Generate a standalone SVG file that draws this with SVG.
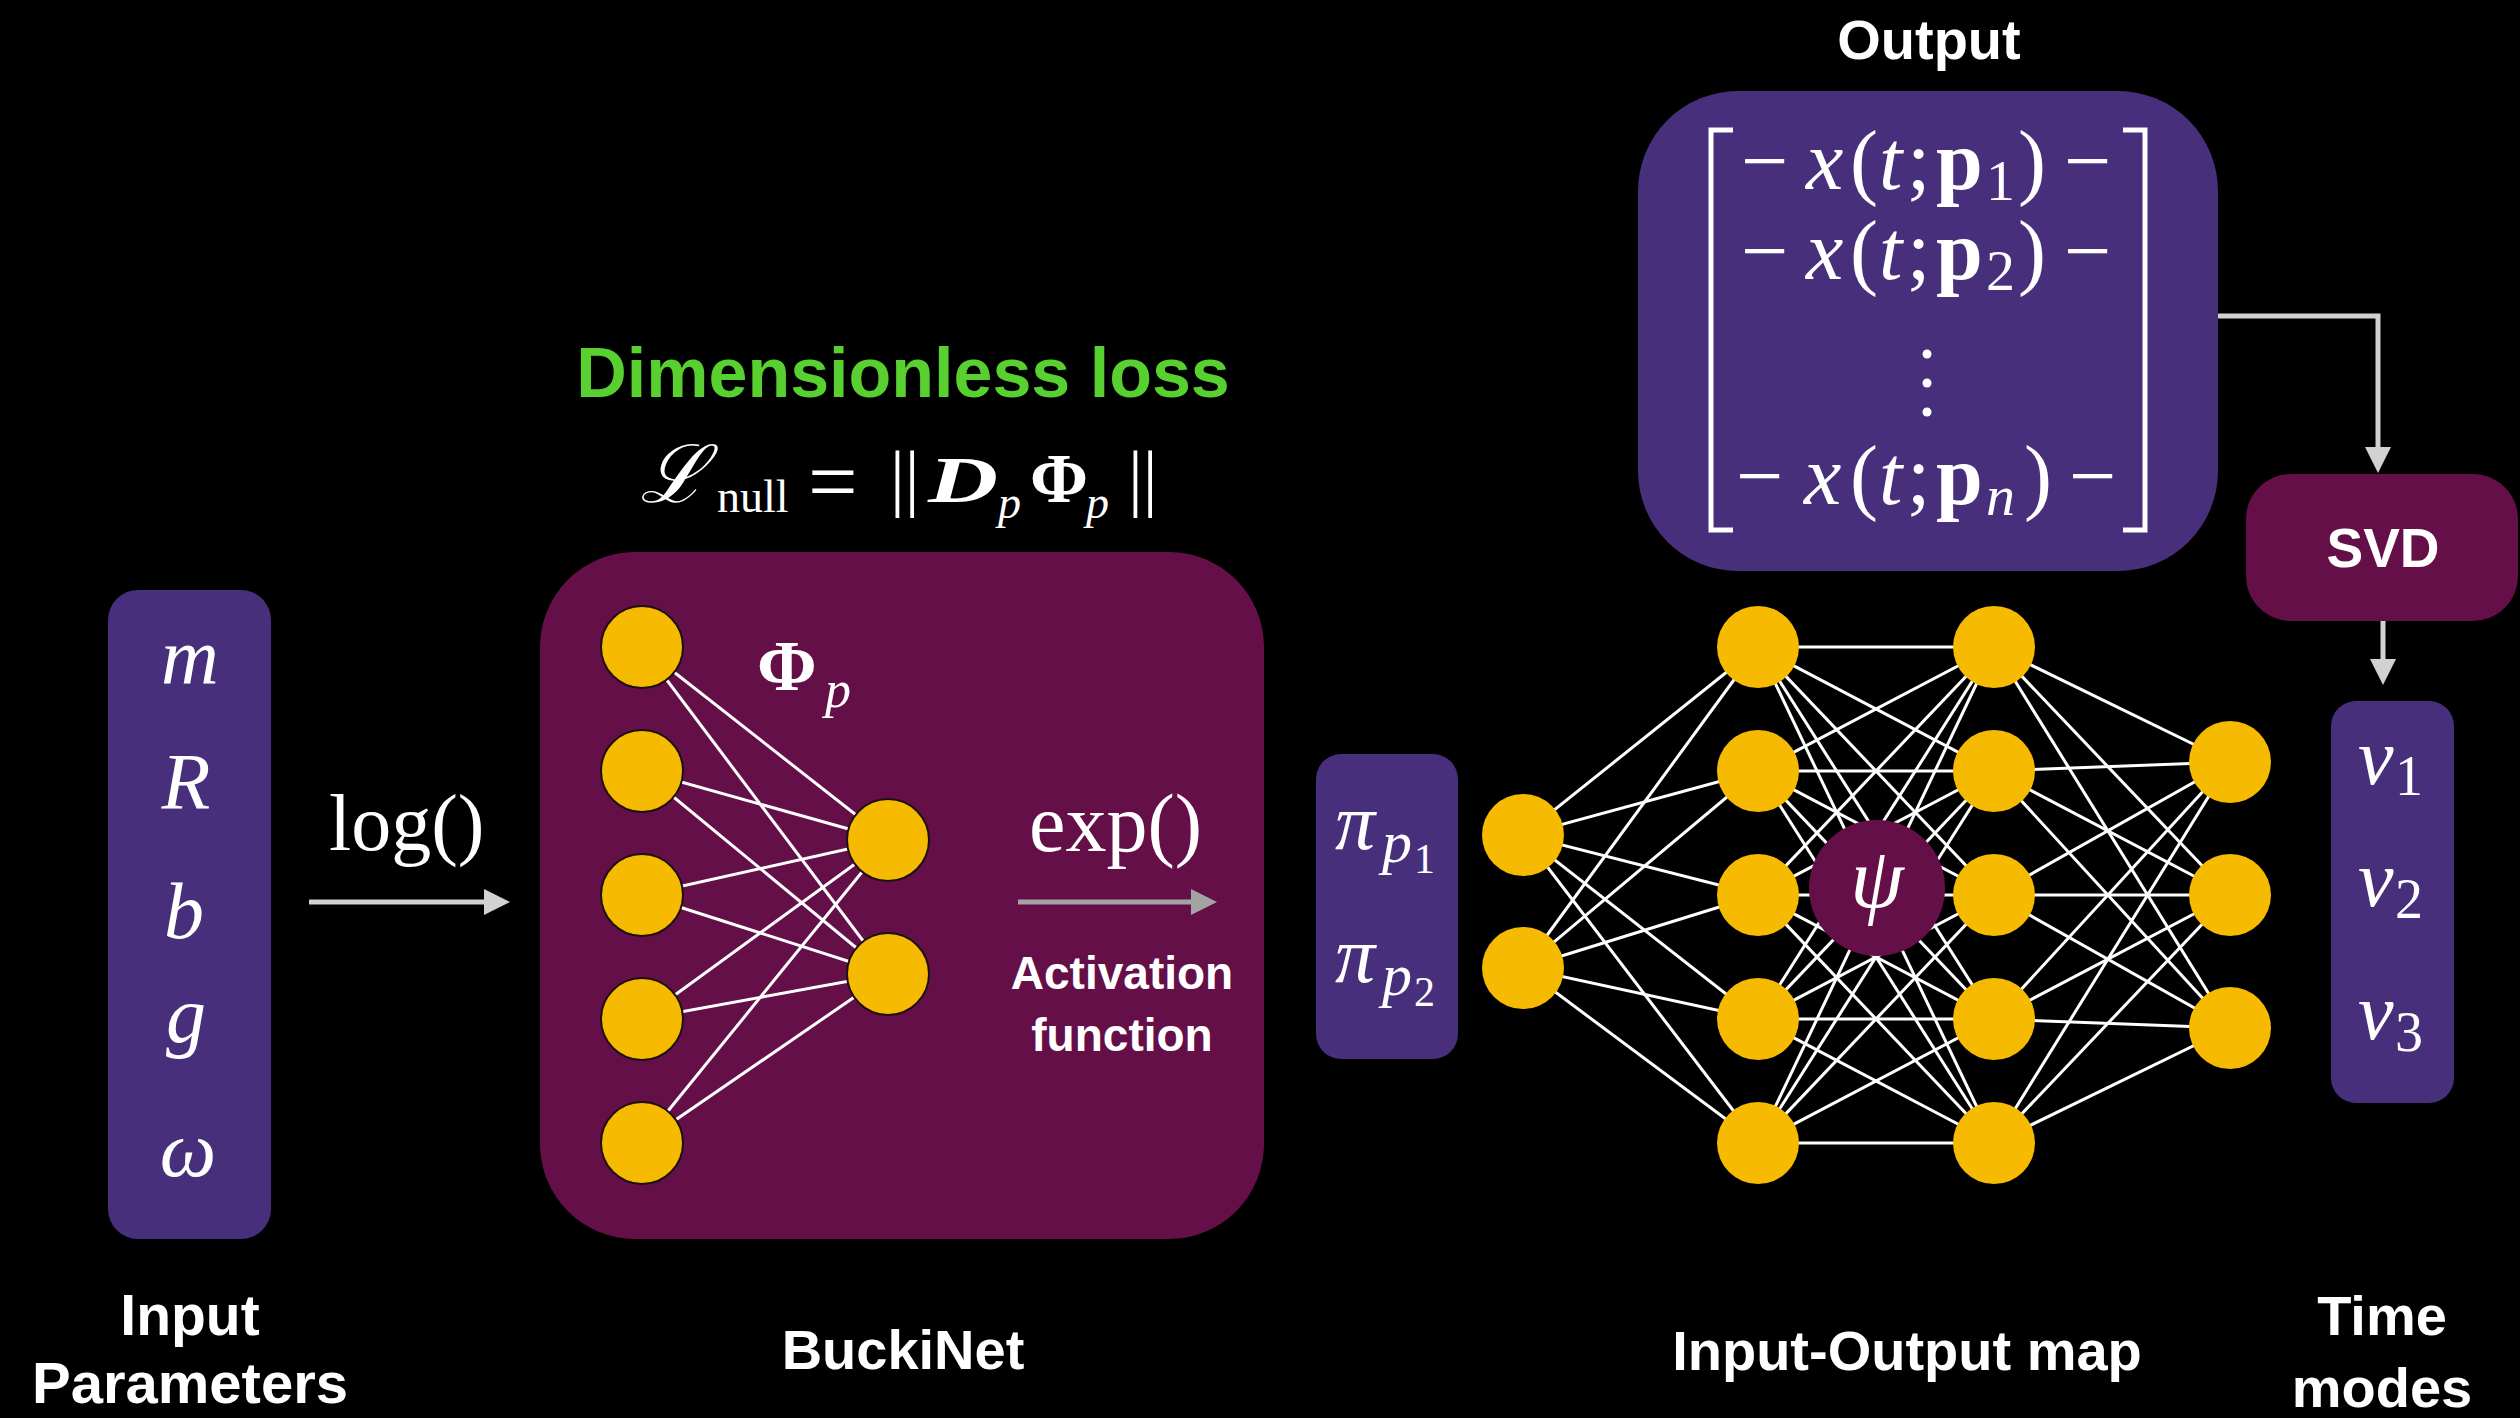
<svg xmlns="http://www.w3.org/2000/svg" width="2520" height="1418" viewBox="0 0 2520 1418">
  <style>
    .purple { fill: #472f7b; }
    .magenta { fill: #640f48; }
    .neuron { fill: #f6ba00; }
    .neuron-o { fill: #f6ba00; stroke: #1c1010; stroke-width: 2; }
    .edge { stroke: #ffffff; stroke-width: 3; }
    .flow { fill: none; stroke: #d2d2d2; stroke-width: 5; }
    .flow-dim { fill: none; stroke: #a3a3a3; stroke-width: 5; }
    .math { font-family: "Liberation Serif", "DejaVu Serif", serif; fill: #ffffff; }
    .it { font-style: italic; }
    .bf { font-weight: bold; }
    .label { font-family: "Liberation Sans", Arial, sans-serif; font-weight: bold; fill: #ffffff; text-anchor: middle; }
  </style>
  <defs>
    <marker id="head-light" markerUnits="userSpaceOnUse" markerWidth="26" markerHeight="26" refX="0" refY="13" orient="auto">
      <path d="M0,0 L26,13 L0,26 z" fill="#d2d2d2"/>
    </marker>
    <marker id="head-dim" markerUnits="userSpaceOnUse" markerWidth="26" markerHeight="26" refX="0" refY="13" orient="auto">
      <path d="M0,0 L26,13 L0,26 z" fill="#a3a3a3"/>
    </marker>
  </defs>

  <rect width="2520" height="1418" fill="#000000"/>

  <!-- Input parameters -->
  <g id="input-parameters">
    <rect class="purple" x="108" y="590" width="163" height="649" rx="30"/>
    <text class="math it" font-size="80" text-anchor="middle" x="190" y="683">m</text>
    <text class="math it" font-size="80" text-anchor="middle" x="186" y="809">R</text>
    <text class="math it" font-size="80" text-anchor="middle" x="184" y="938">b</text>
    <text class="math it" font-size="80" text-anchor="middle" x="186" y="1042">g</text>
    <text class="math it" font-size="80" text-anchor="middle" x="188" y="1176">ω</text>
    <text class="label" font-size="57" x="190" y="1335">Input</text>
    <text class="label" font-size="58" x="190" y="1403">Parameters</text>
  </g>

  <!-- log transform label -->
  <text class="math" font-size="80" x="329" y="850">log()</text>

  <!-- BuckiNet block with its loss -->
  <g id="buckinet">
    <text x="903" y="397" font-family="Liberation Sans, Arial, sans-serif" font-weight="bold" font-size="70" fill="#58d130" text-anchor="middle">Dimensionless loss</text>
    <g id="loss-formula">
      <text class="math it" font-size="80" x="640" y="502">ℒ</text>
      <text class="math" font-size="46" x="717" y="512">null</text>
      <text class="math" font-size="88" x="808" y="511">=</text>
      <text class="math" font-size="74" x="890" y="502">||</text>
      <text class="math it bf" font-size="66" x="928" y="502" textLength="70" lengthAdjust="spacingAndGlyphs">D</text>
      <text class="math it" font-size="46" x="998" y="518">p</text>
      <text class="math bf" font-size="70" x="1030" y="502">Φ</text>
      <text class="math it" font-size="46" x="1086" y="518">p</text>
      <text class="math" font-size="74" x="1128" y="502">||</text>
    </g>
    <rect class="magenta" x="540" y="552" width="724" height="687" rx="95"/>
    <text class="math bf" font-size="72" x="757" y="690">Φ</text>
    <text class="math it" font-size="52" x="825" y="707">p</text>
    <text class="math" font-size="82" x="1029" y="851">exp()</text>
    <text class="label" font-size="46" x="1122" y="989">Activation</text>
    <text class="label" font-size="46" x="1122" y="1051">function</text>
    <text class="label" font-size="56" x="903" y="1369">BuckiNet</text>
  </g>

  <!-- Dimensionless groups -->
  <g id="pi-groups">
    <rect class="purple" x="1316" y="754" width="142" height="305" rx="25"/>
    <text class="math it" font-size="80" x="1335" y="849">π</text>
    <text class="math it" font-size="60" x="1382" y="862">p</text>
    <text class="math" font-size="42" x="1414" y="873">1</text>
    <text class="math it" font-size="80" x="1335" y="982">π</text>
    <text class="math it" font-size="60" x="1382" y="995">p</text>
    <text class="math" font-size="42" x="1414" y="1006">2</text>
  </g>

  <!-- Output snapshot matrix -->
  <g id="output">
    <text class="label" font-size="56" x="1929" y="59">Output</text>
    <rect class="purple" x="1638" y="91" width="580" height="480" rx="100"/>
    <path d="M1733,130 H1711 V530 H1733 M2123,130 H2145 V530 H2123" fill="none" stroke="#ffffff" stroke-width="5"/>
    <text class="math" font-size="84" y="189">
      <tspan x="1741">−</tspan><tspan class="it" x="1806">x</tspan><tspan x="1850">(</tspan><tspan class="it" x="1879">t</tspan><tspan x="1907">;</tspan><tspan class="bf" x="1936">p</tspan><tspan x="1986" y="200" font-size="58">1</tspan><tspan x="2018" y="189">)</tspan><tspan x="2064">−</tspan>
    </text>
    <text class="math" font-size="84" y="279">
      <tspan x="1741">−</tspan><tspan class="it" x="1806">x</tspan><tspan x="1850">(</tspan><tspan class="it" x="1879">t</tspan><tspan x="1907">;</tspan><tspan class="bf" x="1936">p</tspan><tspan x="1986" y="290" font-size="58">2</tspan><tspan x="2018" y="279">)</tspan><tspan x="2064">−</tspan>
    </text>
    <circle cx="1927" cy="354" r="4.5" fill="#ffffff"/>
    <circle cx="1927" cy="383" r="4.5" fill="#ffffff"/>
    <circle cx="1927" cy="412" r="4.5" fill="#ffffff"/>
    <text class="math" font-size="84" y="504">
      <tspan x="1736">−</tspan><tspan class="it" x="1804">x</tspan><tspan x="1850">(</tspan><tspan class="it" x="1879">t</tspan><tspan x="1907">;</tspan><tspan class="bf" x="1936">p</tspan><tspan class="it" x="1986" y="515" font-size="58">n</tspan><tspan x="2024" y="504">)</tspan><tspan x="2069">−</tspan>
    </text>
  </g>

  <!-- SVD -->
  <g id="svd">
    <rect class="magenta" x="2246" y="474" width="272" height="147" rx="45"/>
    <text class="label" font-size="55" x="2383" y="567">SVD</text>
  </g>

  <!-- Time modes -->
  <g id="time-modes">
    <rect class="purple" x="2331" y="701" width="123" height="402" rx="25"/>
    <text class="math it" font-size="80" x="2358" y="784">v</text>
    <text class="math" font-size="56" x="2395" y="795">1</text>
    <text class="math it" font-size="80" x="2358" y="906">v</text>
    <text class="math" font-size="56" x="2395" y="918">2</text>
    <text class="math it" font-size="80" x="2358" y="1039">v</text>
    <text class="math" font-size="56" x="2395" y="1051">3</text>
    <text class="label" font-size="56" x="2382" y="1335">Time</text>
    <text class="label" font-size="56" x="2382" y="1407">modes</text>
  </g>

  <text id="io-map-label" class="label" font-size="56" x="1907" y="1370">Input-Output map</text>

  <!-- Connectors: network weights and flow arrows -->
  <g id="connectors">
    <!-- BuckiNet weights -->
    <g class="edge">
      <line x1="642" y1="647" x2="888" y2="840"/><line x1="642" y1="647" x2="888" y2="974"/>
      <line x1="642" y1="771" x2="888" y2="840"/><line x1="642" y1="771" x2="888" y2="974"/>
      <line x1="642" y1="895" x2="888" y2="840"/><line x1="642" y1="895" x2="888" y2="974"/>
      <line x1="642" y1="1019" x2="888" y2="840"/><line x1="642" y1="1019" x2="888" y2="974"/>
      <line x1="642" y1="1143" x2="888" y2="840"/><line x1="642" y1="1143" x2="888" y2="974"/>
    </g>
    <!-- Input-Output map weights: layer 1 to 2 -->
    <g class="edge">
      <line x1="1523" y1="835" x2="1758" y2="647"/><line x1="1523" y1="835" x2="1758" y2="771"/>
      <line x1="1523" y1="835" x2="1758" y2="895"/><line x1="1523" y1="835" x2="1758" y2="1019"/>
      <line x1="1523" y1="835" x2="1758" y2="1143"/>
      <line x1="1523" y1="968" x2="1758" y2="647"/><line x1="1523" y1="968" x2="1758" y2="771"/>
      <line x1="1523" y1="968" x2="1758" y2="895"/><line x1="1523" y1="968" x2="1758" y2="1019"/>
      <line x1="1523" y1="968" x2="1758" y2="1143"/>
    </g>
    <!-- layer 2 to 3 -->
    <g class="edge">
      <line x1="1758" y1="647" x2="1994" y2="647"/><line x1="1758" y1="647" x2="1994" y2="771"/>
      <line x1="1758" y1="647" x2="1994" y2="895"/><line x1="1758" y1="647" x2="1994" y2="1019"/>
      <line x1="1758" y1="647" x2="1994" y2="1143"/>
      <line x1="1758" y1="771" x2="1994" y2="647"/><line x1="1758" y1="771" x2="1994" y2="771"/>
      <line x1="1758" y1="771" x2="1994" y2="895"/><line x1="1758" y1="771" x2="1994" y2="1019"/>
      <line x1="1758" y1="771" x2="1994" y2="1143"/>
      <line x1="1758" y1="895" x2="1994" y2="647"/><line x1="1758" y1="895" x2="1994" y2="771"/>
      <line x1="1758" y1="895" x2="1994" y2="895"/><line x1="1758" y1="895" x2="1994" y2="1019"/>
      <line x1="1758" y1="895" x2="1994" y2="1143"/>
      <line x1="1758" y1="1019" x2="1994" y2="647"/><line x1="1758" y1="1019" x2="1994" y2="771"/>
      <line x1="1758" y1="1019" x2="1994" y2="895"/><line x1="1758" y1="1019" x2="1994" y2="1019"/>
      <line x1="1758" y1="1019" x2="1994" y2="1143"/>
      <line x1="1758" y1="1143" x2="1994" y2="647"/><line x1="1758" y1="1143" x2="1994" y2="771"/>
      <line x1="1758" y1="1143" x2="1994" y2="895"/><line x1="1758" y1="1143" x2="1994" y2="1019"/>
      <line x1="1758" y1="1143" x2="1994" y2="1143"/>
    </g>
    <!-- layer 3 to 4 -->
    <g class="edge">
      <line x1="1994" y1="647" x2="2230" y2="762"/><line x1="1994" y1="647" x2="2230" y2="895"/><line x1="1994" y1="647" x2="2230" y2="1028"/>
      <line x1="1994" y1="771" x2="2230" y2="762"/><line x1="1994" y1="771" x2="2230" y2="895"/><line x1="1994" y1="771" x2="2230" y2="1028"/>
      <line x1="1994" y1="895" x2="2230" y2="762"/><line x1="1994" y1="895" x2="2230" y2="895"/><line x1="1994" y1="895" x2="2230" y2="1028"/>
      <line x1="1994" y1="1019" x2="2230" y2="762"/><line x1="1994" y1="1019" x2="2230" y2="895"/><line x1="1994" y1="1019" x2="2230" y2="1028"/>
      <line x1="1994" y1="1143" x2="2230" y2="762"/><line x1="1994" y1="1143" x2="2230" y2="895"/><line x1="1994" y1="1143" x2="2230" y2="1028"/>
    </g>
    <!-- flow arrows -->
    <path class="flow" d="M309,902 H484" marker-end="url(#head-light)"/>
    <path class="flow-dim" d="M1018,902 H1191" marker-end="url(#head-dim)"/>
    <path class="flow" d="M2218,316 H2378 V447" marker-end="url(#head-light)"/>
    <path class="flow" d="M2383,621 V659" marker-end="url(#head-light)"/>
  </g>

  <!-- BuckiNet neurons -->
  <g id="buckinet-neurons">
    <circle class="neuron-o" cx="642" cy="647" r="41"/>
    <circle class="neuron-o" cx="642" cy="771" r="41"/>
    <circle class="neuron-o" cx="642" cy="895" r="41"/>
    <circle class="neuron-o" cx="642" cy="1019" r="41"/>
    <circle class="neuron-o" cx="642" cy="1143" r="41"/>
    <circle class="neuron-o" cx="888" cy="840" r="41"/>
    <circle class="neuron-o" cx="888" cy="974" r="41"/>
  </g>

  <!-- Input-Output map neurons -->
  <g id="io-map-neurons">
    <circle class="neuron" cx="1523" cy="835" r="41"/>
    <circle class="neuron" cx="1523" cy="968" r="41"/>
    <circle class="neuron" cx="1758" cy="647" r="41"/>
    <circle class="neuron" cx="1758" cy="771" r="41"/>
    <circle class="neuron" cx="1758" cy="895" r="41"/>
    <circle class="neuron" cx="1758" cy="1019" r="41"/>
    <circle class="neuron" cx="1758" cy="1143" r="41"/>
    <circle class="neuron" cx="1994" cy="647" r="41"/>
    <circle class="neuron" cx="1994" cy="771" r="41"/>
    <circle class="neuron" cx="1994" cy="895" r="41"/>
    <circle class="neuron" cx="1994" cy="1019" r="41"/>
    <circle class="neuron" cx="1994" cy="1143" r="41"/>
    <circle class="neuron" cx="2230" cy="762" r="41"/>
    <circle class="neuron" cx="2230" cy="895" r="41"/>
    <circle class="neuron" cx="2230" cy="1028" r="41"/>
  </g>

  <!-- Latent map psi -->
  <g id="psi">
    <circle class="magenta" cx="1877" cy="888" r="68"/>
    <text class="math it" font-size="86" text-anchor="middle" x="1877" y="907">ψ</text>
  </g>
</svg>
